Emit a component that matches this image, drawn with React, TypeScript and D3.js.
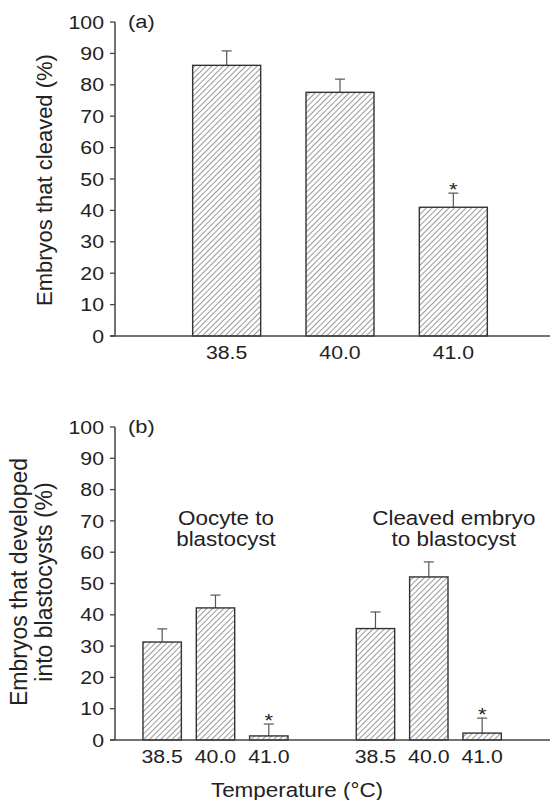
import React from "react";
import * as d3 from "d3";

// Panel (a): embryos that cleaved
const temperaturesA = ["38.5", "40.0", "41.0"];
const cleavedMean = [86.2, 77.6, 41.0];
const cleavedErr = [4.6, 4.2, 4.5];
const cleavedSig = [false, false, true];

// Panel (b): development to blastocyst
const groupNamesB = [["Oocyte to", "blastocyst"], ["Cleaved embryo", "to blastocyst"]];
const temperaturesB = ["38.5", "40.0", "41.0"];
const oocyteMean = [31.3, 42.2, 1.3];
const oocyteErr = [4.2, 4.1, 3.8];
const cleavedBlastMean = [35.6, 52.1, 2.2];
const cleavedBlastErr = [5.3, 4.8, 4.8];
const sigB = [false, false, true];

const yTicks = d3.range(0, 101, 10);

const FONT = "'Liberation Sans', Arial, Helvetica, sans-serif";
const INK = "#222";
const SX = 1.15;

function HText({
  x,
  y,
  size,
  anchor = "start",
  dy,
  children,
}: {
  x: number;
  y: number;
  size: number;
  anchor?: "start" | "middle" | "end";
  dy?: string;
  children: React.ReactNode;
}) {
  return (
    <text
      transform={`translate(${x},${y}) scale(${SX},1)`}
      textAnchor={anchor}
      dy={dy}
      fontSize={size}
      fill={INK}
      fontFamily={FONT}
    >
      {children}
    </text>
  );
}

type Bar = { key: string; label: string; mean: number; err: number; sig: boolean };

function Panel({
  top,
  bottom,
  bars,
  x,
  panelLabel,
  yTitle,
  tickLabelY,
}: {
  top: number;
  bottom: number;
  bars: Bar[];
  x: d3.ScaleBand<string>;
  panelLabel: string;
  yTitle: React.ReactNode;
  tickLabelY: number;
}) {
  const axisX = 115;
  const axisRight = 550;
  const y = d3.scaleLinear().domain([0, 100]).range([bottom, top]);
  const bw = x.bandwidth();
  return (
    <g>
      {bars.map((b) => {
        const x0 = x(b.key)!;
        const cx = x0 + bw / 2;
        const yTop = y(b.mean);
        const yErr = y(b.mean + b.err);
        return (
          <g key={b.key}>
            <line x1={cx} x2={cx} y1={yTop} y2={yErr} stroke="#555" strokeWidth={1.2} />
            <line x1={cx - 5} x2={cx + 5} y1={yErr} y2={yErr} stroke="#555" strokeWidth={1.2} />
            <rect
              x={x0}
              y={yTop}
              width={bw}
              height={bottom - yTop}
              fill="url(#hatch)"
              stroke="#333"
              strokeWidth={1.4}
            />
            {b.sig && (
              <HText x={cx} y={yErr + 3} size={19} anchor="middle">
                *
              </HText>
            )}
            <HText x={cx} y={tickLabelY} size={18.5} anchor="middle">
              {b.label}
            </HText>
          </g>
        );
      })}
      <line x1={axisX} x2={axisX} y1={top} y2={bottom} stroke="#444" strokeWidth={1.5} />
      <line x1={axisX - 5} x2={axisRight} y1={bottom} y2={bottom} stroke="#444" strokeWidth={1.5} />
      {yTicks.map((t) => (
        <g key={t}>
          <line x1={axisX - 5} x2={axisX} y1={y(t)} y2={y(t)} stroke="#444" strokeWidth={1.3} />
          <HText x={axisX - 11} y={y(t)} dy="0.36em" size={18.5} anchor="end">
            {t}
          </HText>
        </g>
      ))}
      <HText x={128} y={top + 6} size={19}>
        {panelLabel}
      </HText>
      {yTitle}
    </g>
  );
}

export default function App() {
  const xA = d3.scaleBand<string>().domain(temperaturesA).range([170, 510]).paddingInner(0.4).paddingOuter(0.2);
  const barsA: Bar[] = temperaturesA.map((t, i) => ({
    key: t,
    label: t,
    mean: cleavedMean[i],
    err: cleavedErr[i],
    sig: cleavedSig[i],
  }));

  const keysB = [
    ...temperaturesB.map((t) => "g1-" + t),
    "gap",
    ...temperaturesB.map((t) => "g2-" + t),
  ];
  const xB = d3.scaleBand<string>().domain(keysB).range([135.5, 508.8]).paddingInner(0.28).paddingOuter(0.14);
  const barsB: Bar[] = [
    ...temperaturesB.map((t, i) => ({ key: "g1-" + t, label: t, mean: oocyteMean[i], err: oocyteErr[i], sig: sigB[i] })),
    ...temperaturesB.map((t, i) => ({ key: "g2-" + t, label: t, mean: cleavedBlastMean[i], err: cleavedBlastErr[i], sig: sigB[i] })),
  ];
  const g1c = xB("g1-40.0")! + xB.bandwidth() / 2;
  const g2c = xB("g2-40.0")! + xB.bandwidth() / 2;

  return (
    <svg
      width={550}
      height={800}
      style={{ position: "absolute", left: 0, top: 0, background: "#fff" }}
      fontFamily={FONT}
    >
      <defs>
        <pattern id="hatch" patternUnits="userSpaceOnUse" width={4} height={8} patternTransform="rotate(45)">
          <rect width={4} height={8} fill="#fff" />
          <line x1={0} y1={0} x2={0} y2={8} stroke="#333" strokeWidth={1} />
        </pattern>
      </defs>
      <rect width={550} height={800} fill="#fff" />
      <Panel
        top={22}
        bottom={336}
        bars={barsA}
        x={xA}
        panelLabel="(a)"
        tickLabelY={359}
        yTitle={
          <text
            transform="translate(52,180) rotate(-90)"
            textAnchor="middle"
            fontSize={22}
            fill={INK}
            fontFamily={FONT}
          >
            Embryos that cleaved (%)
          </text>
        }
      />
      <Panel
        top={427}
        bottom={740}
        bars={barsB}
        x={xB}
        panelLabel="(b)"
        tickLabelY={763}
        yTitle={
          <g transform="translate(0,582) rotate(-90)">
            <text x={0} y={27} textAnchor="middle" fontSize={23} fill={INK} fontFamily={FONT}>
              Embryos that developed
            </text>
            <text x={0} y={52} textAnchor="middle" fontSize={23} fill={INK} fontFamily={FONT}>
              into blastocysts (%)
            </text>
          </g>
        }
      />
      {groupNamesB.map((lines, gi) => {
        const cx = gi === 0 ? g1c + 10.5 : g2c + 25;
        return (
          <g key={gi}>
            {lines.map((l, li) => (
              <HText key={li} x={cx} y={525 + li * 21} size={19.5} anchor="middle">
                {l}
              </HText>
            ))}
          </g>
        );
      })}
      <HText x={297} y={797} size={19.5} anchor="middle">
        Temperature (°C)
      </HText>
    </svg>
  );
}
